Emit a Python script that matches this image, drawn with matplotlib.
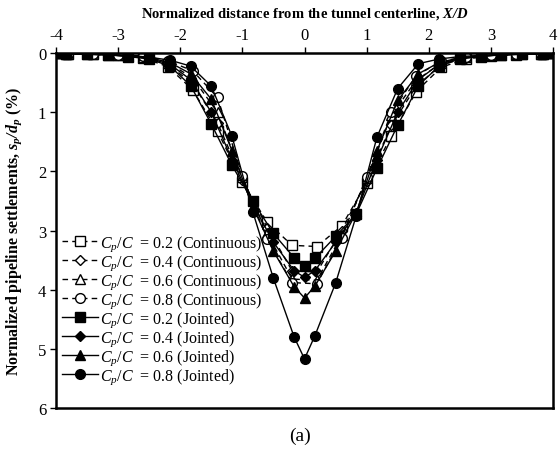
import matplotlib
matplotlib.use("Agg")
import matplotlib.pyplot as plt
import numpy as np

plt.rcParams['font.family'] = ['Liberation Serif', 'DejaVu Serif']
plt.rcParams['mathtext.fontset'] = 'custom'
plt.rcParams['mathtext.rm'] = 'Liberation Serif'
plt.rcParams['mathtext.it'] = 'Liberation Serif:italic'
plt.rcParams['mathtext.bf'] = 'Liberation Serif:bold:italic'
plt.rcParams['axes.unicode_minus'] = False

# node positions (X/D)
x_cont = [-4, -3.8, -3.4, -3.0, -2.6, -2.2, -1.8, -1.4, -1.0, -0.6, -0.2,
          0.2, 0.6, 1.0, 1.4, 1.8, 2.2, 2.6, 3.0, 3.4, 3.8, 4.0]
x_joint = [-4, -23 / 6, -3.5, -19 / 6, -17 / 6, -2.5, -13 / 6, -11 / 6, -1.5, -7 / 6, -5 / 6, -0.5, -1 / 6, 0,
           1 / 6, 0.5, 5 / 6, 7 / 6, 1.5, 11 / 6, 13 / 6, 2.5, 17 / 6, 19 / 6, 3.5, 23 / 6, 4]

# settlements s_p/d_p (%)
cont_02 = [0, 0.01, 0.02, 0.04, 0.08, 0.23, 0.62, 1.32, 2.18, 2.86, 3.25,
           3.27, 2.92, 2.2, 1.4, 0.65, 0.24, 0.1, 0.05, 0.03, 0.01, 0]
cont_04 = [0, 0.01, 0.02, 0.04, 0.07, 0.19, 0.52, 1.18, 2.14, 2.95, 3.68,
           3.7, 3.0, 2.16, 1.22, 0.56, 0.2, 0.08, 0.04, 0.02, 0.01, 0]
cont_06 = [0, 0.01, 0.02, 0.03, 0.06, 0.16, 0.42, 1.0, 2.1, 3.05, 3.82,
           3.84, 3.08, 2.12, 1.05, 0.46, 0.17, 0.07, 0.04, 0.02, 0.01, 0]
cont_08 = [0, 0.01, 0.02, 0.03, 0.05, 0.13, 0.3, 0.75, 2.08, 3.15, 3.88,
           3.9, 3.12, 2.1, 1.0, 0.38, 0.14, 0.06, 0.03, 0.02, 0.01, 0]

joint_02 = [0, 0.01, 0.02, 0.03, 0.06, 0.1, 0.22, 0.55, 1.2, 1.9, 2.5, 3.05, 3.46, 3.6,
            3.47, 3.1, 2.72, 1.95, 1.22, 0.55, 0.22, 0.1, 0.06, 0.03, 0.02, 0.01, 0]
joint_04 = [0, 0.01, 0.02, 0.03, 0.05, 0.09, 0.19, 0.45, 1.0, 1.8, 2.55, 3.2, 3.68, 3.79,
            3.68, 3.2, 2.7, 1.8, 1.0, 0.45, 0.19, 0.09, 0.05, 0.03, 0.02, 0.01, 0]
joint_06 = [0, 0.01, 0.02, 0.03, 0.05, 0.08, 0.16, 0.35, 0.78, 1.65, 2.6, 3.35, 3.95, 4.14,
            3.94, 3.35, 2.7, 1.65, 0.8, 0.35, 0.16, 0.08, 0.05, 0.03, 0.02, 0.01, 0]
joint_08 = [0, 0.0, 0.01, 0.02, 0.04, 0.07, 0.12, 0.22, 0.56, 1.41, 2.68, 3.81, 4.8, 5.17,
            4.78, 3.89, 2.75, 1.42, 0.6, 0.18, 0.1, 0.06, 0.04, 0.02, 0.01, 0, 0]

ratios = ['0.2', '0.4', '0.6', '0.8']
markers = ['s', 'D', '^', 'o']
msizes = [6.5, 5.5, 6.5, 7]

fig = plt.figure(figsize = (5.6, 4.64), dpi = 100)
ax = fig.add_axes([0.1, 0.1185, 0.8875, 0.765])

cont_series = [cont_02, cont_04, cont_06, cont_08]
joint_series = [joint_02, joint_04, joint_06, joint_08]

for r, m, ms, ys in zip(ratios, markers, msizes, cont_series):
    ax.plot(x_cont, ys, color = 'black', lw = 1, ls = (0, (4, 3)), marker = m, ms = ms,
            mfc = 'white', mec = 'black', mew = 1,
            label = r'$C_p/C$  = ' + r + ' (Continuous)')

for r, m, ms, ys in zip(ratios, markers, msizes, joint_series):
    ax.plot(x_joint, ys, color = 'black', lw = 1, ls = '-', marker = m, ms = ms,
            mfc = 'black', mec = 'black', mew = 1,
            label = r'$C_p/C$  = ' + r + ' (Jointed)')

ax.set_xlim(-4, 4)
ax.set_ylim(6, 0)
ax.set_xticks(np.arange(-4, 5, 1))
ax.set_yticks(np.arange(0, 7, 1))
ax.xaxis.tick_top()
ax.xaxis.set_label_position('top')
ax.tick_params(axis = 'both', direction = 'out', length = 4, width = 1, labelsize = 12, pad = 3)
for s in ax.spines.values():
    s.set_linewidth(1.8)

ax.set_xlabel(r'Normalized distance from the tunnel centerline, $\mathbf{X/D}$',
              fontsize = 10.5, fontweight = 'bold', labelpad = 8)
ax.set_ylabel(r'Normalized pipeline settlements, $\mathbf{s_p/d_p}$ (%)',
              fontsize = 11.5, fontweight = 'bold', labelpad = 10)

ax.legend(loc = 'upper left', bbox_to_anchor = (0.005, 0.5), frameon = False, fontsize = 11.5,
          handlelength = 2.3, handletextpad = 0.1, labelspacing = -0.04, borderaxespad = 0.2,
          borderpad = 0)

fig.text(0.535, 0.06, '(a)', fontsize = 14, ha = 'center', va = 'center')

fig.savefig('out.png', dpi = 100)
